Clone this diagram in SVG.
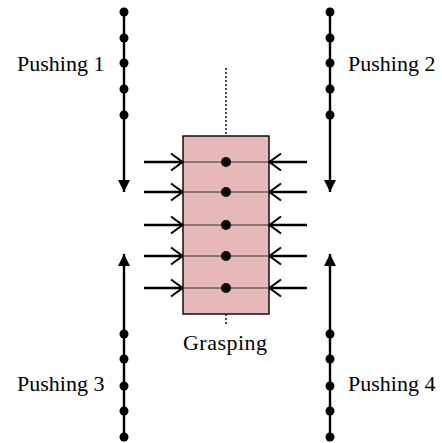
<svg xmlns="http://www.w3.org/2000/svg" width="442" height="443" viewBox="0 0 442 443">
  <defs>
    <marker id="tri" viewBox="0 0 10 10" refX="10" refY="5" markerWidth="5" markerHeight="5" orient="auto" markerUnits="strokeWidth">
      <path d="M0,0 L10,5 L0,10 Z" fill="#000"/>
    </marker>
    <marker id="chev" viewBox="0 0 14 20" refX="13" refY="10" markerWidth="14" markerHeight="20" orient="auto" markerUnits="userSpaceOnUse">
      <path d="M1,1.5 L12.5,10 L1,18.5" fill="none" stroke="#000" stroke-width="2"/>
    </marker>
  </defs>
  <style>
    .lbl { font-family: "Liberation Serif", "Times New Roman", serif; font-size: 22px; fill: #000; }
    .track { stroke: #000; stroke-width: 2.4; fill: none; }
    .push { stroke: #000; stroke-width: 2.4; fill: none; }
    .dot { fill: #000; }
    .row { stroke: #333; stroke-width: 1.2; }
    .axis { stroke: #000; stroke-width: 1.4; stroke-dasharray: 2 2; }
  </style>
  <rect width="442" height="443" fill="#fff"/>

  <g id="grasping">
    <line class="axis" x1="226" y1="68" x2="226" y2="136"/>
    <line class="axis" x1="226" y1="314" x2="226" y2="326"/>
    <rect x="183" y="136" width="86" height="178" fill="#e6b8b7" stroke="#000" stroke-width="1.4"/>
    <line class="row" x1="183" y1="162" x2="269" y2="162"/>
    <line class="row" x1="183" y1="192" x2="269" y2="192"/>
    <line class="row" x1="183" y1="225" x2="269" y2="225"/>
    <line class="row" x1="183" y1="256" x2="269" y2="256"/>
    <line class="row" x1="183" y1="288" x2="269" y2="288"/>
    <circle class="dot" cx="226" cy="162" r="5"/>
    <circle class="dot" cx="226" cy="192" r="5"/>
    <circle class="dot" cx="226" cy="225" r="5"/>
    <circle class="dot" cx="226" cy="256" r="5"/>
    <circle class="dot" cx="226" cy="288" r="5"/>
    <text class="lbl" x="225" y="350" text-anchor="middle" textLength="84">Grasping</text>
  </g>

  <g id="pushing1">
    <line class="track" x1="124" y1="12" x2="124" y2="192" marker-end="url(#tri)"/>
    <circle class="dot" cx="124" cy="12" r="4.5"/>
    <circle class="dot" cx="124" cy="38" r="4.5"/>
    <circle class="dot" cx="124" cy="63" r="4.5"/>
    <circle class="dot" cx="124" cy="89" r="4.5"/>
    <circle class="dot" cx="124" cy="115" r="4.5"/>
    <text class="lbl" x="17" y="71">Pushing 1</text>
  </g>

  <g id="pushing2">
    <line class="track" x1="330" y1="12" x2="330" y2="192" marker-end="url(#tri)"/>
    <circle class="dot" cx="330" cy="12" r="4.5"/>
    <circle class="dot" cx="330" cy="38" r="4.5"/>
    <circle class="dot" cx="330" cy="63" r="4.5"/>
    <circle class="dot" cx="330" cy="89" r="4.5"/>
    <circle class="dot" cx="330" cy="115" r="4.5"/>
    <text class="lbl" x="348" y="71">Pushing 2</text>
  </g>

  <g id="pushing3">
    <line class="track" x1="124" y1="437" x2="124" y2="254" marker-end="url(#tri)"/>
    <circle class="dot" cx="124" cy="334" r="4.5"/>
    <circle class="dot" cx="124" cy="359" r="4.5"/>
    <circle class="dot" cx="124" cy="386" r="4.5"/>
    <circle class="dot" cx="124" cy="411" r="4.5"/>
    <circle class="dot" cx="124" cy="437" r="4.5"/>
    <text class="lbl" x="17" y="391">Pushing 3</text>
  </g>

  <g id="pushing4">
    <line class="track" x1="330" y1="437" x2="330" y2="254" marker-end="url(#tri)"/>
    <circle class="dot" cx="330" cy="334" r="4.5"/>
    <circle class="dot" cx="330" cy="359" r="4.5"/>
    <circle class="dot" cx="330" cy="386" r="4.5"/>
    <circle class="dot" cx="330" cy="411" r="4.5"/>
    <circle class="dot" cx="330" cy="437" r="4.5"/>
    <text class="lbl" x="348" y="391">Pushing 4</text>
  </g>

  <g id="connectors">
    <line class="push" x1="144" y1="162" x2="183" y2="162" marker-end="url(#chev)"/>
    <line class="push" x1="144" y1="192" x2="183" y2="192" marker-end="url(#chev)"/>
    <line class="push" x1="144" y1="225" x2="183" y2="225" marker-end="url(#chev)"/>
    <line class="push" x1="144" y1="256" x2="183" y2="256" marker-end="url(#chev)"/>
    <line class="push" x1="144" y1="288" x2="183" y2="288" marker-end="url(#chev)"/>
    <line class="push" x1="307" y1="162" x2="269" y2="162" marker-end="url(#chev)"/>
    <line class="push" x1="307" y1="192" x2="269" y2="192" marker-end="url(#chev)"/>
    <line class="push" x1="307" y1="225" x2="269" y2="225" marker-end="url(#chev)"/>
    <line class="push" x1="307" y1="256" x2="269" y2="256" marker-end="url(#chev)"/>
    <line class="push" x1="307" y1="288" x2="269" y2="288" marker-end="url(#chev)"/>
  </g>
</svg>
